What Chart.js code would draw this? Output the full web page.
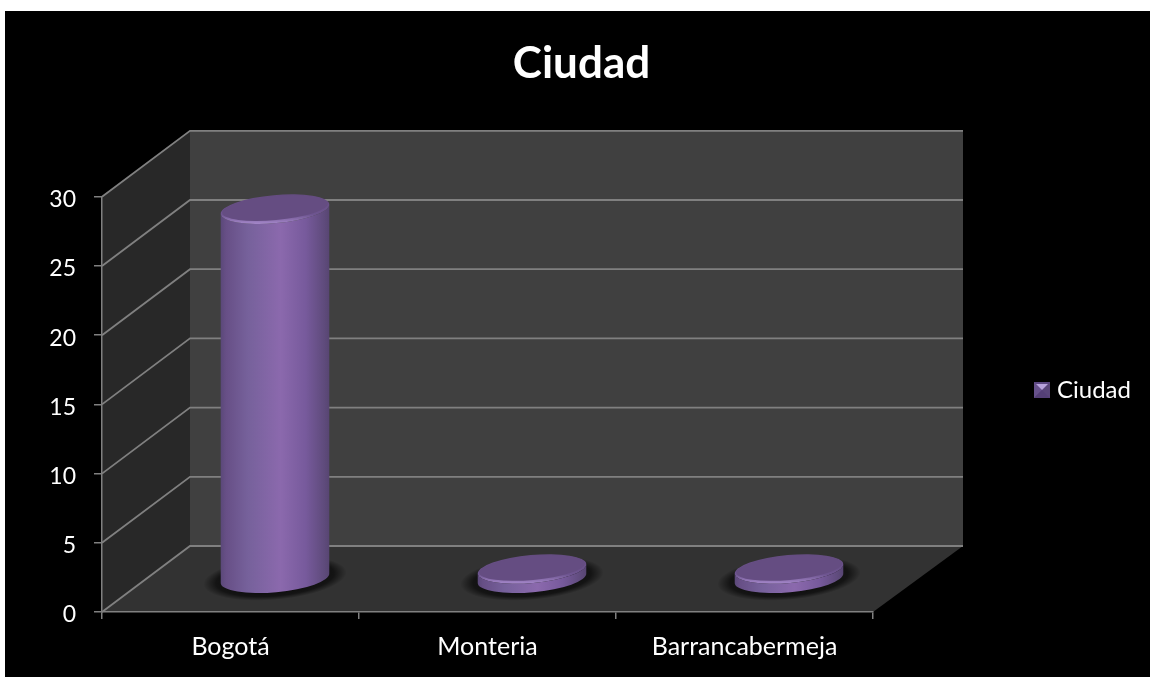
<!DOCTYPE html>
<html>
<head>
<meta charset="utf-8">
<title>Ciudad</title>
<script src="https://cdn.jsdelivr.net/npm/chart.js@4"></script>
<style>
  html, body { margin: 0; padding: 0; background: #fff; overflow: hidden; }
  #wrap { position: absolute; left: 5px; top: 11px; width: 1145px; height: 666px; background: #000; }
</style>
</head>
<body>
<div id="wrap"><canvas id="chart" width="1145" height="666"></canvas></div>
<script>
// datos
const categorias = ["Bogotá", "Monteria", "Barrancabermeja"];
const valoresCiudad = [27, 1, 1];
const nombreSerie = "Ciudad";

// profundidad de la caja 3D
const DX = 88, DX_DER = 90, DY = 66;
const LINEA = "#808080";
const FUENTE = "Lato, 'Open Sans', sans-serif";

function poly(ctx, pts, color){
  ctx.beginPath();
  pts.forEach((p, i) => i ? ctx.lineTo(p[0], p[1]) : ctx.moveTo(p[0], p[1]));
  ctx.closePath();
  ctx.fillStyle = color;
  ctx.fill();
}

// icono de la leyenda
function iconoLeyenda(){
  const c = document.createElement("canvas");
  c.width = 16; c.height = 16;
  const g = c.getContext("2d");
  poly(g, [[0,0],[16,0],[16,16],[0,16]], "#5a4680");
  poly(g, [[0,0],[8,8],[0,16]], "#67518c");
  poly(g, [[16,0],[8,8],[16,16]], "#594579");
  poly(g, [[0,16],[8,8],[16,16]], "#543f76");
  poly(g, [[2,2],[14,2],[8,8]], "#b7a2dc");
  return c;
}

const cajaPlugin = {
  id: "caja3d",
  beforeLayout(chart){
    // la leyenda ocupa todo el margen derecho
    const lg = chart.legend;
    if (!lg._fitOriginal){
      lg._fitOriginal = lg.fit;
      lg.fit = function(){ this._fitOriginal(); this.width = 277; };
    }
  },
  afterLayout(chart){
    const lg = chart.legend;
    lg.left += 156; lg.right += 156;
    lg.top += 46; lg.bottom += 46;
    chart.titleBlock.left += 4; chart.titleBlock.right += 4;
  },
  beforeDraw(chart){
    const ctx = chart.ctx, a = chart.chartArea, y = chart.scales.y;
    const bl = a.left + DX, br = a.right + DX_DER;
    poly(ctx, [[a.left,a.top],[bl,a.top-DY],[bl,a.bottom-DY],[a.left,a.bottom]], "#282828");
    poly(ctx, [[bl,a.top-DY],[br,a.top-DY],[br,a.bottom-DY],[bl,a.bottom-DY]], "#404040");
    poly(ctx, [[a.left,a.bottom],[a.right,a.bottom],[br,a.bottom-DY],[bl,a.bottom-DY]], "#323232");

    ctx.save();
    ctx.strokeStyle = LINEA;
    ctx.lineWidth = 1.8;
    y.ticks.forEach(t => {
      const py = y.getPixelForValue(t.value);
      ctx.beginPath();
      ctx.moveTo(a.left, py);
      ctx.lineTo(bl, py - DY);
      ctx.lineTo(br, py - DY);
      ctx.stroke();
    });
    ctx.restore();
  },
  afterDatasetsDraw(chart){
    chart.getDatasetMeta(0).data.forEach(el => cilindro(chart.ctx, el));
  }
};

function cilindro(ctx, el){
  const rx = 54.5, ry = 14, rot = -0.09;
  const cx = el.x + (DX + DX_DER) / 4;
  const yBase = el.base - DY / 2;
  const yTop = el.y - DY / 2 + 3.8;   // el bisel baja un poco la tapa

  // sombra difusa sobre el piso
  ctx.save();
  ctx.translate(cx, yBase);
  ctx.rotate(rot);
  ctx.scale(1, 0.3);
  const s = ctx.createRadialGradient(0, 0, 40, 0, 0, 72);
  s.addColorStop(0, "rgba(0,0,0,0.75)");
  s.addColorStop(0.6, "rgba(0,0,0,0.6)");
  s.addColorStop(1, "rgba(0,0,0,0)");
  ctx.fillStyle = s;
  ctx.beginPath();
  ctx.arc(0, 0, 72, 0, Math.PI * 2);
  ctx.fill();
  ctx.restore();

  // cuerpo
  const g = ctx.createLinearGradient(cx - rx, 0, cx + rx, 0);
  g.addColorStop(0, "#5a4878");
  g.addColorStop(0.05, "#674f86");
  g.addColorStop(0.25, "#76619b");
  g.addColorStop(0.55, "#8b69ad");
  g.addColorStop(0.78, "#775a9c");
  g.addColorStop(0.95, "#5f4b7c");
  g.addColorStop(1, "#574572");
  ctx.beginPath();
  ctx.ellipse(cx, yBase, rx, ry, rot, 0, Math.PI);
  ctx.ellipse(cx, yTop, rx, ry, rot, Math.PI, 0, true);
  ctx.closePath();
  ctx.fillStyle = g;
  ctx.fill();

  // tapa con bisel claro abajo
  const b = ctx.createLinearGradient(0, yTop - ry, 0, yTop + ry);
  b.addColorStop(0, "#644c80");
  b.addColorStop(0.7, "#6e5590");
  b.addColorStop(1, "#a184c6");
  ctx.beginPath();
  ctx.ellipse(cx, yTop, rx, ry, rot, 0, Math.PI * 2);
  ctx.fillStyle = b;
  ctx.fill();
  ctx.beginPath();
  ctx.ellipse(cx, yTop - 1, rx - 1.5, ry - 2, rot, 0, Math.PI * 2);
  ctx.fillStyle = "#654d82";
  ctx.fill();
}

const chart = new Chart(document.getElementById("chart"), {
  type: "bar",
  data: {
    labels: categorias,
    datasets: [{ label: nombreSerie, data: valoresCiudad, backgroundColor: "rgba(0,0,0,0)", borderWidth: 0 }]
  },
  plugins: [cajaPlugin],
  options: {
    responsive: false,
    animation: false,
    layout: { padding: { left: 0, right: 0, top: 0, bottom: 0 } },
    scales: {
      x: {
        afterFit(s){ s.height = 65; },
        grid: { drawOnChartArea: false, drawTicks: true, tickLength: 7, color: LINEA, lineWidth: 1.5 },
        border: { color: LINEA, width: 1.5 },
        ticks: { color: "#fff", font: { family: FUENTE, size: 25 }, padding: 13, maxRotation: 0 }
      },
      y: {
        min: 0, max: 30,
        afterFit(s){ s.width = 97; },
        grid: { drawOnChartArea: false, drawTicks: true, tickLength: 8, color: LINEA, lineWidth: 1.5 },
        border: { color: LINEA, width: 1.5 },
        ticks: { stepSize: 5, color: "#fff", font: { family: FUENTE, size: 23 }, padding: 18, labelOffset: 3 }
      }
    },
    plugins: {
      title: {
        display: true,
        text: nombreSerie,
        color: "#fff",
        font: { family: FUENTE, size: 44, weight: "bold" },
        padding: { top: 26, bottom: 107 }
      },
      legend: {
        position: "right",
        labels: {
          color: "#fff",
          font: { family: FUENTE, size: 24 },
          usePointStyle: true,
          pointStyle: iconoLeyenda(),
          boxWidth: 6
        }
      },
      tooltip: { enabled: false }
    }
  }
});
</script>
</body>
</html>
